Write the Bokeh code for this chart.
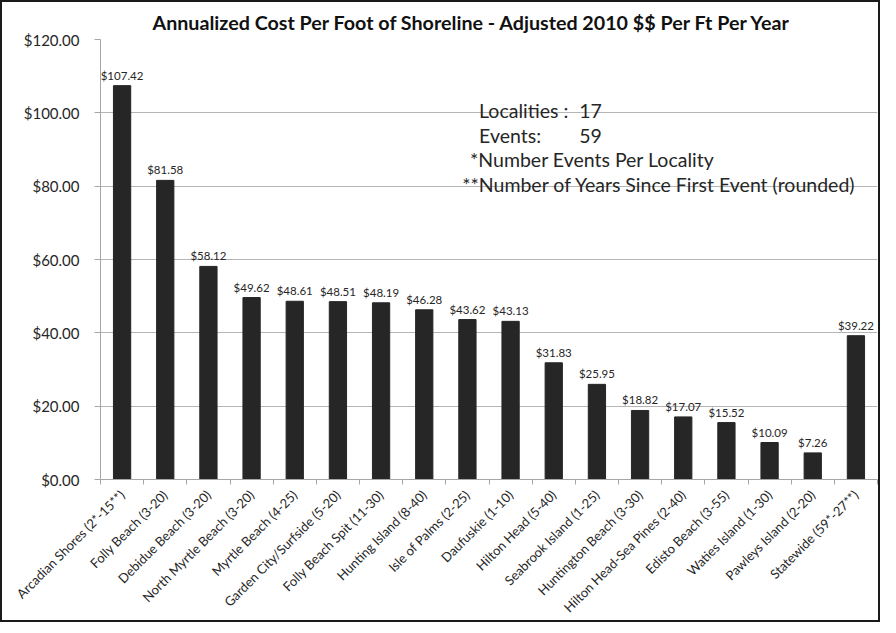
from bokeh.plotting import figure
from bokeh.models import (ColumnDataSource, LabelSet, Label, Range1d, FixedTicker,
                          NumeralTickFormatter)
from bokeh.core.properties import value
from bokeh.embed import file_html
from bokeh.resources import INLINE
import math

localities = ["Arcadian Shores (2*-15**)", "Folly Beach (3-20)", "Debidue Beach (3-20)",
              "North Myrtle Beach (3-20)", "Myrtle Beach (4-25)", "Garden City/Surfside (5-20)",
              "Folly Beach Spit (11-30)", "Hunting Island (8-40)", "Isle of Palms (2-25)",
              "Daufuskie (1-10)", "Hilton Head (5-40)", "Seabrook Island (1-25)",
              "Huntington Beach (3-30)", "Hilton Head-Sea Pines (2-40)", "Edisto Beach (3-55)",
              "Waties Island (1-30)", "Pawleys Island (2-20)", "Statewide (59*-27**)"]
cost = [107.42, 81.58, 58.12, 49.62, 48.61, 48.51, 48.19, 46.28, 43.62, 43.13,
        31.83, 25.95, 18.82, 17.07, 15.52, 10.09, 7.26, 39.22]
y_ticks = [0, 20, 40, 60, 80, 100, 120]
notes = [("Localities :", "17"), ("Events:", "59")]
footnotes = ["*Number Events Per Locality", "**Number of Years Since First Event (rounded)"]
title = "Annualized Cost Per Foot of Shoreline - Adjusted 2010 $$ Per Ft Per Year"

FONT = "Lato"
TXT = "#262626"

idx = list(range(len(localities)))
src = ColumnDataSource(dict(x=idx, v=cost, txt=[f"${c:.2f}" for c in cost]))

p = figure(width=880, height=622, output_backend="svg", toolbar_location=None,
           x_range=Range1d(-0.5, len(localities) - 0.5), y_range=Range1d(0, 120),
           min_border_left=98, min_border_right=5, min_border_top=37, min_border_bottom=143)
p.styles = {"border": "2px solid #1a1a1a"}
p.outline_line_color = None

p.title.text = title
p.title.text_font = FONT
p.title.text_font_size = "19.7px"
p.title.text_font_style = "bold"
p.title.text_color = "#111111"
p.title.align = "left"
p.title.offset = 52
p.title.standoff = 12

p.vbar(x="x", top="v", width=0.4, source=src, fill_color="#262626", line_color="#262626")
p.add_layout(LabelSet(x="x", y="v", text="txt", source=src, y_offset=4,
                      text_align="center", text_baseline="bottom",
                      text_font=value(FONT), text_font_size=value("11.5px"),
                      text_color=value(TXT)))

# axes
p.xgrid.grid_line_color = None
p.ygrid.grid_line_color = "#b5b5b5"
p.ygrid.grid_line_width = 1

ya = p.yaxis[0]
ya.ticker = FixedTicker(ticks=y_ticks)
ya.formatter = NumeralTickFormatter(format="$0.00")
ya.major_label_text_font = FONT
ya.major_label_text_font_size = "15px"
ya.major_label_text_color = TXT
ya.axis_line_color = "#a6a6a6"
ya.major_tick_line_color = "#a6a6a6"
ya.major_tick_out = 6
ya.major_tick_in = 0
ya.minor_tick_line_color = None
ya.major_label_standoff = 15

xa = p.xaxis[0]
xa.ticker = FixedTicker(ticks=idx, minor_ticks=[i - 0.5 for i in range(len(idx) + 1)])
xa.major_label_overrides = {i: lab for i, lab in enumerate(localities)}
xa.major_label_orientation = math.pi / 4
xa.major_label_text_font = FONT
xa.major_label_text_font_size = "13px"
xa.major_label_text_color = TXT
xa.axis_line_color = "#a6a6a6"
xa.major_tick_line_color = None
xa.minor_tick_line_color = "#a6a6a6"
xa.minor_tick_out = 5
xa.minor_tick_in = 0
xa.major_label_standoff = 7

# info text box
for (lab, num), yy in zip(notes, [100.6, 93.8]):
    p.add_layout(Label(x=8.27, y=yy, text=lab, text_font=FONT, text_font_size="19.5px",
                       text_color=TXT, text_baseline="middle"))
    p.add_layout(Label(x=10.59, y=yy, text=num, text_font=FONT, text_font_size="19.5px",
                       text_color=TXT, text_baseline="middle"))
for t, xx, yy in zip(footnotes, [8.06, 7.88], [87.3, 80.4]):
    p.add_layout(Label(x=xx, y=yy, text=t, text_font=FONT, text_font_size="19.5px",
                       text_color=TXT, text_baseline="middle"))

open("out.html", "w").write(file_html(p, INLINE))
